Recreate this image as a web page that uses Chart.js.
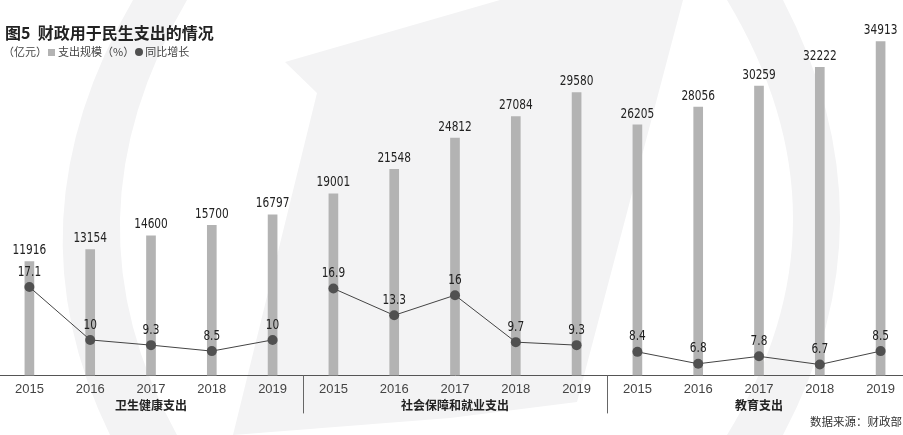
<!DOCTYPE html>
<html>
<head>
<meta charset="utf-8">
<script src="https://cdn.jsdelivr.net/npm/chart.js@4"></script>
<style>
  html, body { margin: 0; padding: 0; width: 903px; height: 435px; overflow: hidden; background: #fff; }
  #wrap { position: relative; width: 903px; height: 435px; }
  #chart { position: absolute; left: -1px; top: 0; }
  .title { position: absolute; left: 5px; top: 21px; font: 700 16px "Noto Sans CJK SC", sans-serif; color: #222; line-height: 22px; }
  .legend { position: absolute; left: 3px; top: 43px; font: 11px "Noto Sans CJK SC", sans-serif; color: #444; line-height: 16px; }
  .legend .sq { display: inline-block; width: 7px; height: 7px; background: #b3b3b3; margin: 0 3px 0 1px; }
  .legend .dot { display: inline-block; width: 8px; height: 8px; border-radius: 50%; background: #505050; margin: 0 2px 0 1px; }
  .source { position: absolute; right: 1px; top: 413px; font: 11.5px "Noto Sans CJK SC", sans-serif; color: #333; line-height: 16px; }
</style>
</head>
<body>
<div id="wrap">
  <canvas id="chart" width="912" height="435"></canvas>
  <div class="title">图5&nbsp;&nbsp;财政用于民生支出的情况</div>
  <div class="legend">（亿元）<span class="sq"></span>支出规模（%）<span class="dot"></span>同比增长</div>
  <div class="source">数据来源：财政部</div>
</div>
<script>
const years = ['2015', '2016', '2017', '2018', '2019'];
const groups = ['卫生健康支出', '社会保障和就业支出', '教育支出'];

const healthSpend = [11916, 13154, 14600, 15700, 16797];
const socialSpend = [19001, 21548, 24812, 27084, 29580];
const eduSpend = [26205, 28056, 30259, 32222, 34913];

const healthGrowth = [17.1, 10, 9.3, 8.5, 10];
const socialGrowth = [16.9, 13.3, 16, 9.7, 9.3];
const eduGrowth = [8.4, 6.8, 7.8, 6.7, 8.5];

const labels = [...years, ...years, ...years];
const spend = [...healthSpend, ...socialSpend, ...eduSpend];
const empty = years.map(() => null);
const growthSets = [
  [...healthGrowth, ...empty, ...empty],
  [...empty, ...socialGrowth, ...empty],
  [...empty, ...empty, ...eduGrowth]
];

const numFont = '14px "DejaVu Sans Condensed", "DejaVu Sans", sans-serif';

// faint logo shapes behind the chart
const backdrop = {
  id: 'backdrop',
  beforeDraw(chart) {
    const c = chart.ctx;
    c.save();
    c.translate(1, 0);
    c.fillStyle = '#f3f3f4';
    c.beginPath();
    c.moveTo(133, 0);
    c.quadraticCurveTo(5, 220, 110, 435);
    c.lineTo(177, 435);
    c.quadraticCurveTo(58, 220, 187, 0);
    c.closePath();
    c.fill();
    c.beginPath();
    c.moveTo(285, 62);
    c.lineTo(500, 0);
    c.lineTo(683, 0);
    c.lineTo(577, 402);
    c.lineTo(450, 418);
    c.lineTo(233, 435);
    c.lineTo(317, 93);
    c.closePath();
    c.fill();
    c.beginPath();
    c.moveTo(727, 0);
    c.quadraticCurveTo(859, 220, 727, 435);
    c.lineTo(783, 435);
    c.quadraticCurveTo(897, 220, 783, 0);
    c.closePath();
    c.fill();
    c.restore();
  }
};

// value labels, group names and separators
const annotate = {
  id: 'annotate',
  afterDraw(chart) {
    const c = chart.ctx;
    const x = chart.scales.x;
    c.save();
    c.font = numFont;
    c.fillStyle = '#222';
    c.textAlign = 'center';
    c.textBaseline = 'middle';
    chart.data.datasets.forEach((ds, i) => {
      const meta = chart.getDatasetMeta(i);
      meta.data.forEach((el, j) => {
        const v = ds.data[j];
        if (v === null || v === undefined) return;
        const off = ds.type === 'bar' ? 11 : 15;
        c.save();
        c.translate(el.x, el.y - off);
        c.scale(0.84, 1);
        c.fillText(String(v), 0, 0);
        c.restore();
      });
    });
    const bottom = chart.chartArea.bottom;
    c.font = '700 12px "Noto Sans CJK SC", sans-serif';
    c.fillStyle = '#222';
    groups.forEach((g, k) => {
      c.fillText(g, x.getPixelForValue(k * 5 + 2), bottom + 30);
    });
    c.strokeStyle = '#666';
    c.lineWidth = 1;
    [1, 2].forEach(k => {
      const sx = Math.round((x.getPixelForValue(k * 5 - 1) + x.getPixelForValue(k * 5)) / 2) + 0.5;
      c.beginPath();
      c.moveTo(sx, bottom);
      c.lineTo(sx, bottom + 38);
      c.stroke();
    });
    c.restore();
  }
};

const lineSet = data => ({
  type: 'line',
  data,
  yAxisID: 'y1',
  borderColor: '#444',
  borderWidth: 1,
  pointRadius: 5,
  pointBackgroundColor: '#505050',
  pointBorderWidth: 0,
  spanGaps: false,
  order: 0
});

new Chart(document.getElementById('chart'), {
  type: 'bar',
  data: {
    labels,
    datasets: [
      {
        type: 'bar',
        data: spend,
        yAxisID: 'y',
        backgroundColor: '#b3b3b3',
        barThickness: 9,
        order: 1
      },
      ...growthSets.map(lineSet)
    ]
  },
  options: {
    responsive: false,
    animation: false,
    events: [],
    layout: { autoPadding: false, padding: { top: 0, left: 0, right: 0, bottom: 32 } },
    plugins: { legend: { display: false }, tooltip: { enabled: false } },
    scales: {
      x: {
        grid: { display: false, drawTicks: false },
        border: { display: true, color: '#555', width: 1 },
        ticks: {
          padding: 6,
          color: '#444',
          font: { family: 'Liberation Sans, Arial, sans-serif', size: 13 },
          maxRotation: 0,
          autoSkip: false
        }
      },
      y: { display: false, min: 0, max: 39267 },
      y1: { display: false, min: 5.24, max: 55.6 }
    }
  },
  plugins: [backdrop, annotate]
});
</script>
</body>
</html>
